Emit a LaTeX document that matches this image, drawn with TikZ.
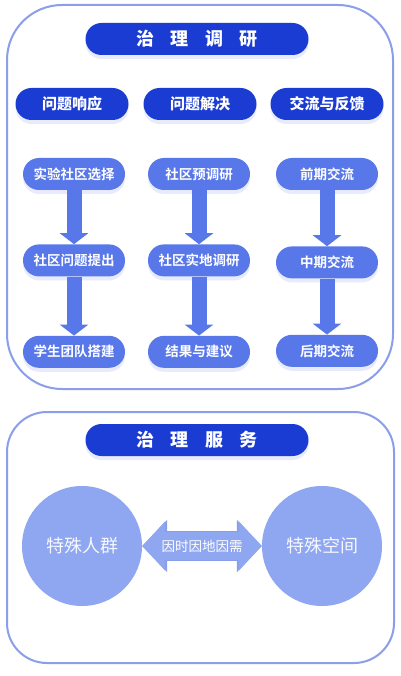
\documentclass[tikz,border=0pt]{standalone}
\usepackage{fontspec}
\setmainfont{Noto Sans CJK SC}[BoldFont={Noto Sans CJK SC Bold}]
\newfontfamily\heavy{Noto Sans CJK SC Black}
\usepackage{xcolor}
\usetikzlibrary{positioning,shadows,arrows.meta}
\definecolor{deepblue}{RGB}{26,60,210}
\definecolor{stepblue}{RGB}{88,120,234}
\definecolor{softblue}{RGB}{143,166,240}
\definecolor{edgeblue}{RGB}{138,158,234}
\definecolor{glowblue}{RGB}{190,200,250}

\tikzset{
  panel/.style={draw=edgeblue, line width=2pt, fill=white},
  headpill/.style={rounded corners=16pt, fill=deepblue, text=white, font=\heavy\fontsize{18}{20}\selectfont,
    minimum width=223pt, minimum height=32pt, inner sep=0pt,
    drop shadow={shadow xshift=0pt, shadow yshift=-4pt, opacity=0.35, fill=glowblue}},
  colpill/.style={rounded corners=16pt, fill=deepblue, text=white, font=\heavy\fontsize{15}{17}\selectfont,
    minimum width=113pt, minimum height=32pt, inner sep=0pt,
    drop shadow={shadow xshift=0pt, shadow yshift=-4pt, opacity=0.35, fill=glowblue}},
  stepbox/.style={rounded corners=16pt, fill=stepblue, text=white, font=\bfseries\fontsize{13.5}{15}\selectfont,
    minimum width=102pt, minimum height=32pt, inner sep=0pt,
    drop shadow={shadow xshift=0pt, shadow yshift=-4pt, opacity=0.35, fill=glowblue}},
  flowarrow/.style={draw=stepblue, line width=15pt, -{Triangle[width=28pt,length=11pt]}},
  bubble/.style={circle, fill=softblue, text=white!92!softblue, minimum size=120pt, inner sep=0pt,
    font=\fontsize{18}{20}\selectfont},
  twoway/.style={draw=softblue, line width=28pt,
    {Triangle[width=48pt,length=23pt]}-{Triangle[width=48pt,length=23pt]},
    preaction={draw=edgeblue, line width=30pt, {Triangle[width=51pt,length=25pt]}-{Triangle[width=51pt,length=25pt]}}}
}
\newcommand{\gap}{\hspace{0.9em}}

\begin{document}
\begin{tikzpicture}[x=1pt,y=-1pt]
\useasboundingbox (0,0) rectangle (400,676);
% panels
\draw[panel, rounded corners=55pt] (7,5) rectangle (393,389);
\draw[panel, rounded corners=40pt] (7,412) rectangle (394,663);
% research
\node[headpill] (research) at (197,39) {治\gap 理\gap 调\gap 研};
\node[colpill] (respond) at (72,104) {问题响应};
\node[colpill] (solve) at (200,104) {问题解决};
\node[colpill] (talk) at (327,104) {交流与反馈};
% steps, column 1
\node[stepbox] (pick) at (74,174) {实验社区选择};
\node[stepbox, below = 54pt of pick] (raise) {社区问题提出};
\node[stepbox, below = 59pt of raise] (team) {学生团队搭建};
% steps, column 2
\node[stepbox] (pre) at (199,174) {社区预调研};
\node[stepbox, below = 54pt of pre] (field) {社区实地调研};
\node[stepbox, below = 59pt of field] (result) {结果与建议};
% steps, column 3
\node[stepbox] (early) at (327,174) {前期交流};
\node[stepbox, below = 56pt of early] (mid) {中期交流};
\node[stepbox, below = 56pt of mid] (late) {后期交流};
% arrows
\draw[flowarrow] (pick) -- (raise);
\draw[flowarrow] (raise) -- (team);
\draw[flowarrow] (pre) -- (field);
\draw[flowarrow] (field) -- (result);
\draw[flowarrow] (early) -- (mid);
\draw[flowarrow] (mid) -- (late);
% service
\node[headpill] (service) at (197,440) {治\gap 理\gap 服\gap 务};
\node[bubble] (crowd) at (82,546) {特殊人群};
\node[bubble] (space) at (322,546) {特殊空间};
\draw[twoway] (crowd) -- (space) node[midway, text=white, font=\fontsize{13.5}{15}\selectfont] (need) {因时因地因需};
\end{tikzpicture}
\end{document}
